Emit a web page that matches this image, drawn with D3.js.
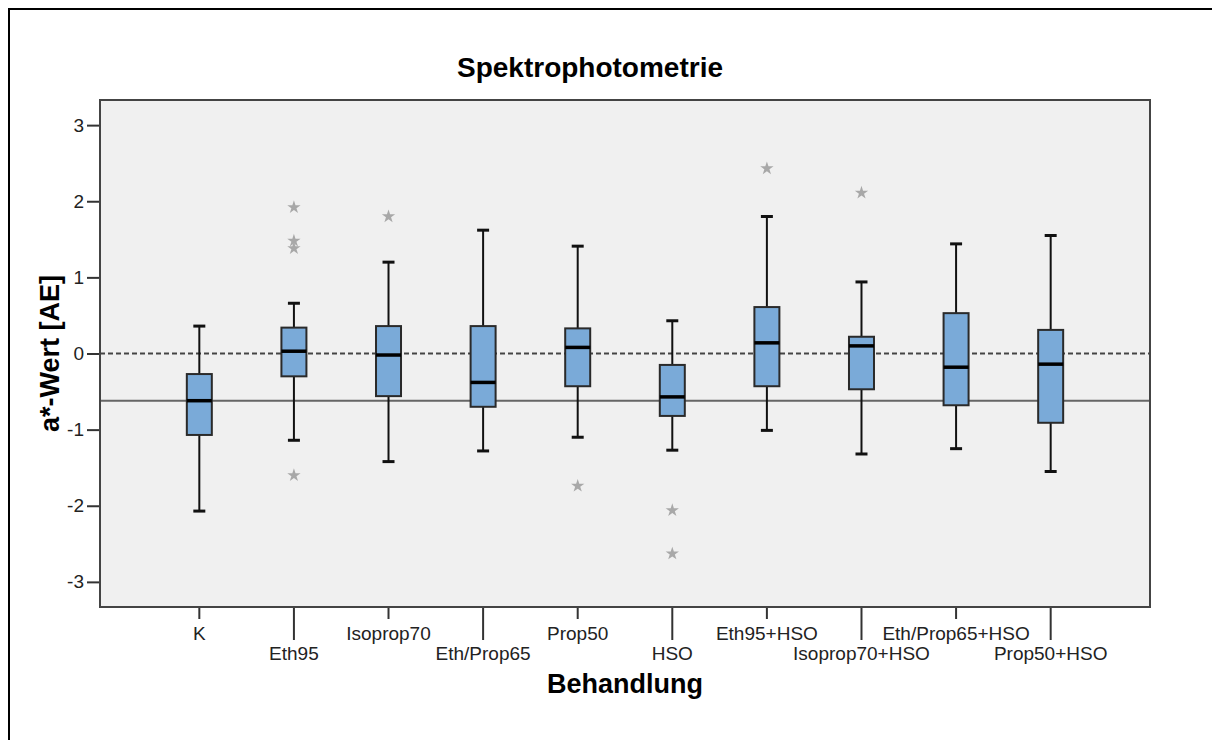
<!DOCTYPE html>
<html>
<head>
<meta charset="utf-8">
<script src="https://cdn.jsdelivr.net/npm/d3@7"></script>
<style>
  body { margin: 0; background: #fff; }
  svg { display: block; font-family: "Liberation Sans", Arial, sans-serif; }
</style>
</head>
<body>
<div class="main"></div>
<script>
// categories + box stats
var categories = ["K", "Eth95", "Isoprop70", "Eth/Prop65", "Prop50", "HSO",
  "Eth95+HSO", "Isoprop70+HSO", "Eth/Prop65+HSO", "Prop50+HSO"];
var whiskerLow = [-2.07, -1.14, -1.42, -1.28, -1.10, -1.27, -1.01, -1.32, -1.25, -1.55];
var q1 = [-1.07, -0.30, -0.56, -0.70, -0.43, -0.82, -0.43, -0.47, -0.68, -0.91];
var median = [-0.62, 0.03, -0.02, -0.38, 0.08, -0.57, 0.14, 0.10, -0.18, -0.14];
var q3 = [-0.27, 0.34, 0.36, 0.36, 0.33, -0.15, 0.61, 0.22, 0.53, 0.31];
var whiskerHigh = [0.36, 0.66, 1.20, 1.62, 1.41, 0.43, 1.80, 0.94, 1.44, 1.55];
var outliers = [[], [1.92, 1.48, 1.38, -1.60], [1.80], [], [-1.74], [-2.06, -2.63], [2.43], [2.11], [], []];
var yTicks = [-3, -2, -1, 0, 1, 2, 3];

var fullwidth = 1212, fullheight = 740;
var margin = { top: 100, right: 62, bottom: 133, left: 100 };
var width = fullwidth - margin.left - margin.right;
var height = fullheight - margin.top - margin.bottom;

var svg = d3.select(".main")
  .append("svg")
  .attr("width", fullwidth)
  .attr("height", fullheight);

// outer frame (left + top edge only, like the source image)
svg.append("path")
  .attr("d", "M9,740 V9 H1212")
  .attr("fill", "none")
  .attr("stroke", "#000")
  .attr("stroke-width", 2);

var g = svg.append("g")
  .attr("transform", "translate(" + margin.left + "," + margin.top + ")");

//scales
var x = d3.scalePoint()
  .domain(categories)
  .range([0, width])
  .padding(1.05);

var y = d3.scaleLinear()
  .domain([-3.33, 3.33])
  .range([height, 0]);

// plot background
g.append("rect")
  .attr("width", width)
  .attr("height", height)
  .attr("fill", "#f0f0f0");

// reference lines: dashed at 0, solid at control median
g.append("line")
  .attr("x1", 0).attr("x2", width)
  .attr("y1", y(0)).attr("y2", y(0))
  .attr("stroke", "#444")
  .attr("stroke-width", 2)
  .attr("stroke-dasharray", "5,3");

g.append("line")
  .attr("x1", 0).attr("x2", width)
  .attr("y1", y(median[0])).attr("y2", y(median[0]))
  .attr("stroke", "#666")
  .attr("stroke-width", 2);

//y axis (plain hyphen for negatives, like SPSS)
var yAxis = g.append("g")
  .call(d3.axisLeft(y).tickValues(yTicks).tickSize(13).tickPadding(3)
    .tickFormat(d => String(d)));
yAxis.select(".domain").remove();
yAxis.selectAll("line").attr("stroke", "#333").attr("stroke-width", 2);
yAxis.selectAll("text").attr("font-size", 19).attr("fill", "#222")
  .attr("font-family", "Liberation Sans, Arial, sans-serif");

//x axis, alternating tick lengths
var xAxis = g.append("g")
  .attr("transform", "translate(0," + height + ")");
categories.forEach(function(c, i) {
  var long = i % 2 === 1;
  xAxis.append("line")
    .attr("x1", x(c)).attr("x2", x(c))
    .attr("y1", 0).attr("y2", long ? 33 : 12)
    .attr("stroke", "#333")
    .attr("stroke-width", 2);
  xAxis.append("text")
    .attr("x", x(c))
    .attr("y", long ? 53 : 33)
    .attr("text-anchor", "middle")
    .attr("font-size", 19)
    .attr("fill", "#222")
    .text(c);
});

var boxW = 25, capW = 12;
var boxes = g.append("g")
  .selectAll("g")
  .data(categories)
  .join("g");

// whiskers
boxes.append("line")
  .attr("x1", d => x(d)).attr("x2", d => x(d))
  .attr("y1", (d, i) => y(whiskerHigh[i]))
  .attr("y2", (d, i) => y(q3[i]))
  .attr("stroke", "#111").attr("stroke-width", 2);
boxes.append("line")
  .attr("x1", d => x(d)).attr("x2", d => x(d))
  .attr("y1", (d, i) => y(q1[i]))
  .attr("y2", (d, i) => y(whiskerLow[i]))
  .attr("stroke", "#111").attr("stroke-width", 2);
boxes.append("line")
  .attr("x1", d => x(d) - capW / 2).attr("x2", d => x(d) + capW / 2)
  .attr("y1", (d, i) => y(whiskerHigh[i])).attr("y2", (d, i) => y(whiskerHigh[i]))
  .attr("stroke", "#111").attr("stroke-width", 3);
boxes.append("line")
  .attr("x1", d => x(d) - capW / 2).attr("x2", d => x(d) + capW / 2)
  .attr("y1", (d, i) => y(whiskerLow[i])).attr("y2", (d, i) => y(whiskerLow[i]))
  .attr("stroke", "#111").attr("stroke-width", 3);

// boxes
boxes.append("rect")
  .attr("x", d => x(d) - boxW / 2)
  .attr("width", boxW)
  .attr("y", (d, i) => y(q3[i]))
  .attr("height", (d, i) => y(q1[i]) - y(q3[i]))
  .attr("fill", "#7aaad8")
  .attr("stroke", "#2a2a2a")
  .attr("stroke-width", 2);

// median
boxes.append("line")
  .attr("x1", d => x(d) - boxW / 2).attr("x2", d => x(d) + boxW / 2)
  .attr("y1", (d, i) => y(median[i])).attr("y2", (d, i) => y(median[i]))
  .attr("stroke", "#000").attr("stroke-width", 3.5);

// outlier stars
var star = d3.symbol().type(d3.symbolStar).size(55);
categories.forEach(function(c, i) {
  outliers[i].forEach(function(v) {
    g.append("path")
      .attr("d", star)
      .attr("transform", "translate(" + x(c) + "," + y(v) + ")")
      .attr("fill", "#a8a8a8");
  });
});

// plot border
g.append("rect")
  .attr("width", width)
  .attr("height", height)
  .attr("fill", "none")
  .attr("stroke", "#444")
  .attr("stroke-width", 2);

// titles
svg.append("text")
  .attr("x", 590)
  .attr("y", 77)
  .attr("text-anchor", "middle")
  .attr("font-size", 28)
  .attr("font-weight", "bold")
  .text("Spektrophotometrie");

svg.append("text")
  .attr("x", margin.left + width / 2)
  .attr("y", 693)
  .attr("text-anchor", "middle")
  .attr("font-size", 27)
  .attr("font-weight", "bold")
  .text("Behandlung");

svg.append("text")
  .attr("transform", "translate(59," + (margin.top + y(0)) + ") rotate(-90)")
  .attr("text-anchor", "middle")
  .attr("font-size", 27)
  .attr("font-weight", "bold")
  .text("a*-Wert [AE]");
</script>
</body>
</html>
